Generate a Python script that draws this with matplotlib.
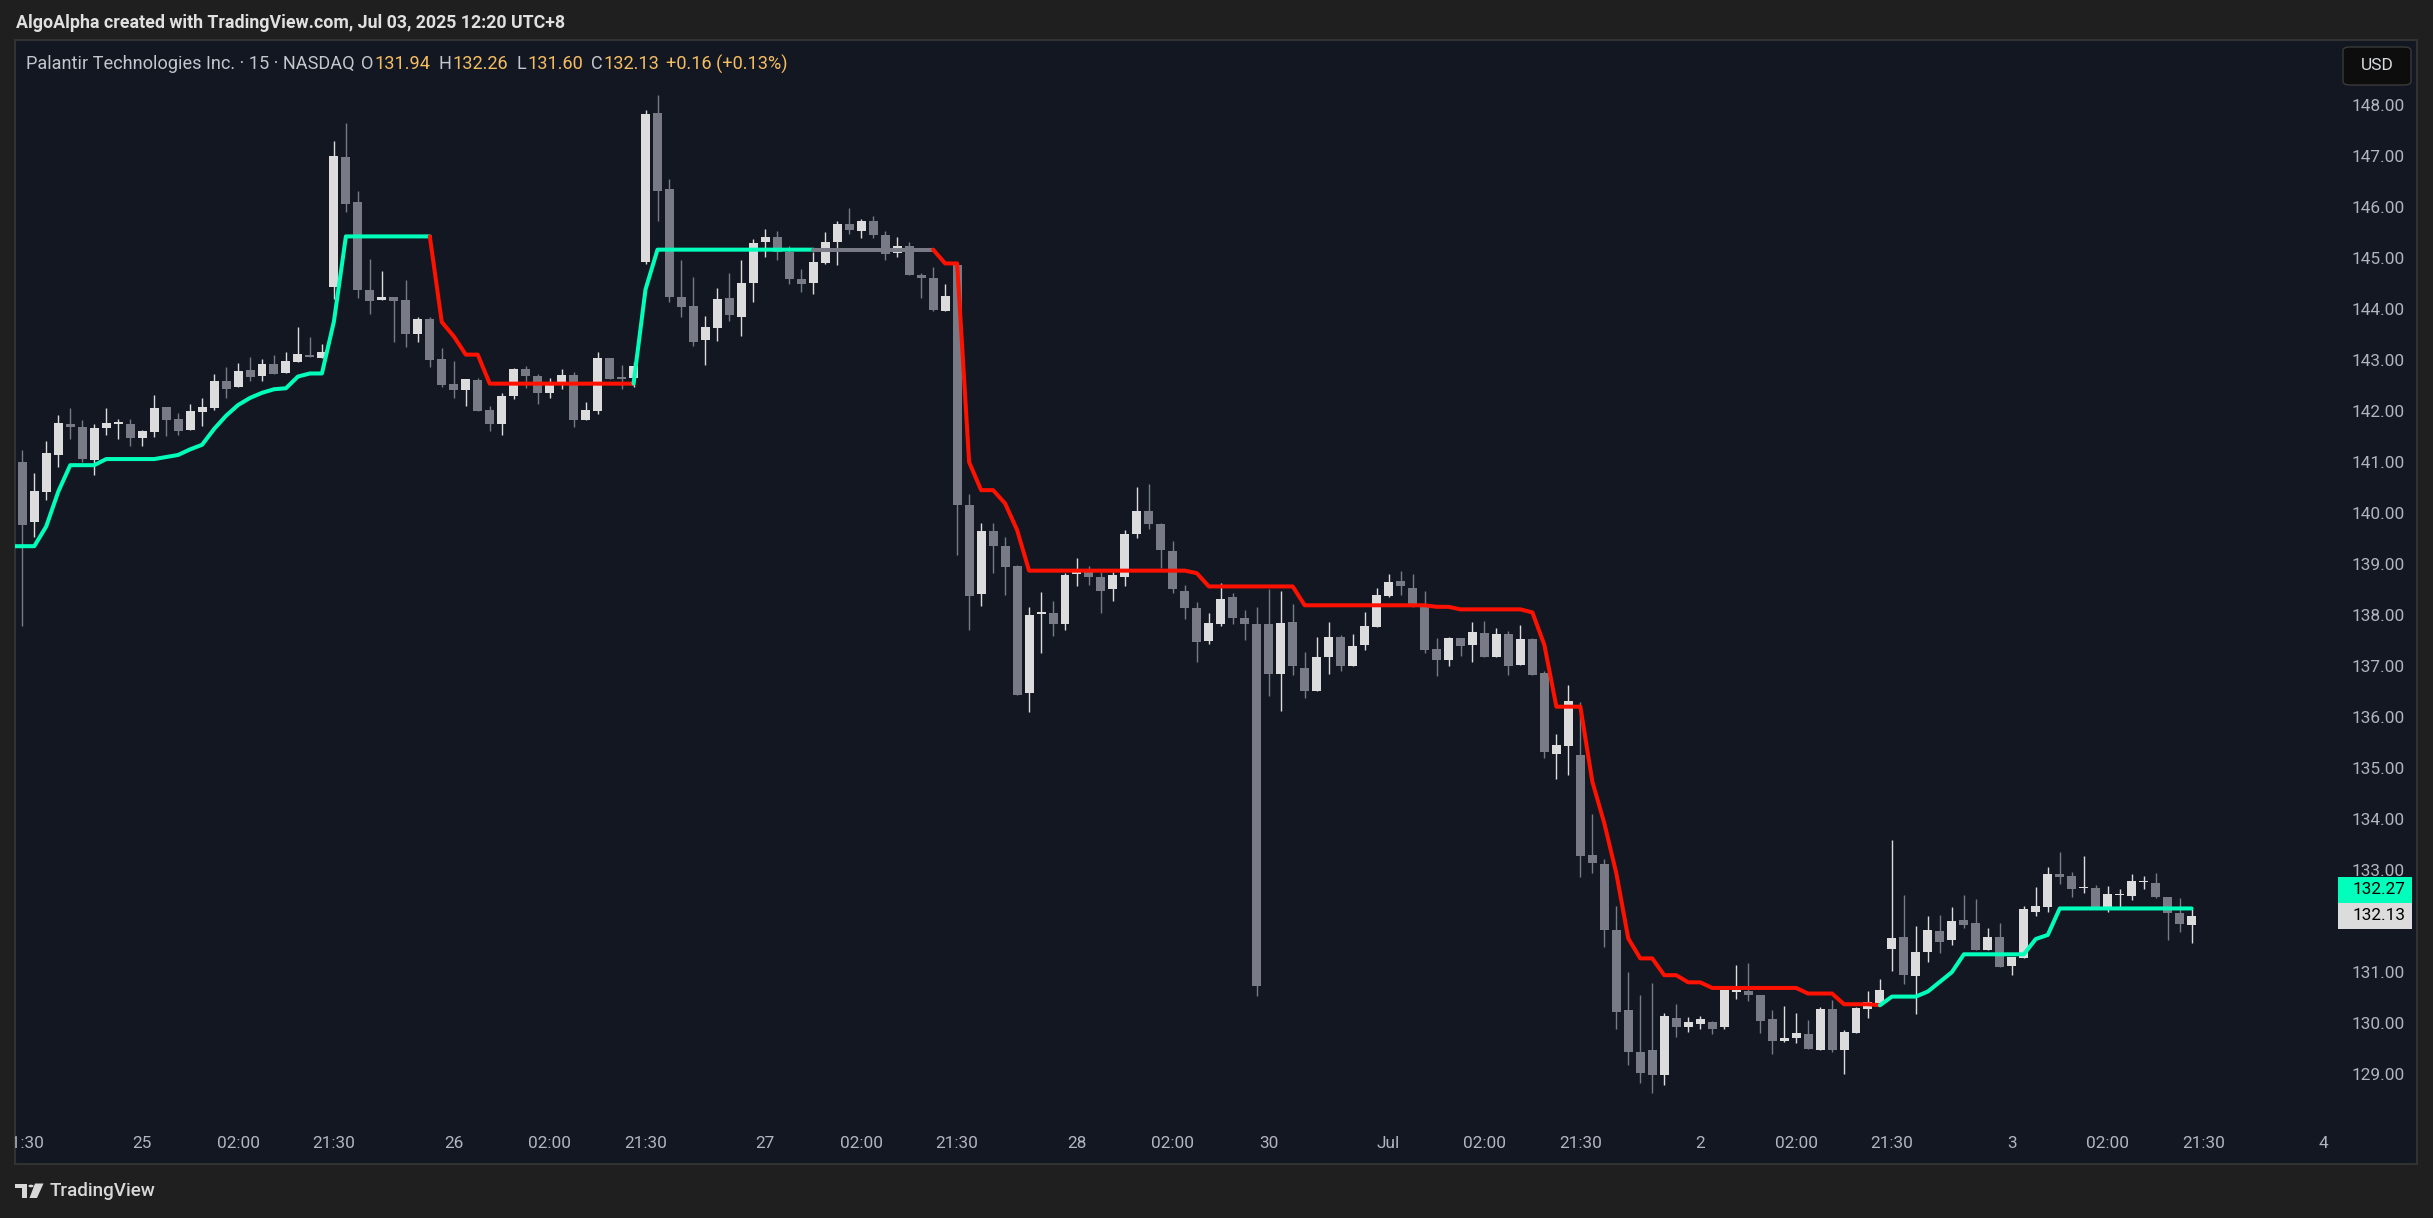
import numpy as np
import matplotlib
matplotlib.use("Agg")
import matplotlib.pyplot as plt
from matplotlib.patches import Rectangle, Polygon, Circle, FancyBboxPatch
from matplotlib.transforms import blended_transform_factory

plt.rcParams['font.family'] = ['Roboto', 'DejaVu Sans']

# PLTR 15 min, regular session only. bar 0 = Jun 24 21:30 (UTC+8)
opens = [
    141.03, 139.85, 140.45, 141.17, 141.78, 141.72, 141.08, 141.69, 141.79, 141.78,
    141.51, 141.62, 142.11, 141.88, 141.66, 142.01, 142.10, 142.62, 142.50, 142.84,
    142.73, 142.96, 142.78, 142.99, 143.13, 143.08, 144.47, 147.02, 146.13, 144.41,
    144.22, 144.27, 144.21, 143.55, 143.83, 143.06, 142.57, 142.45, 142.64, 142.05,
    141.77, 142.33, 142.86, 142.72, 142.39, 142.60, 142.74, 141.85, 142.04, 143.08,
    142.70, 142.68, 144.96, 147.88, 146.39, 144.27, 144.09, 143.43, 143.67, 144.25,
    143.87, 144.55, 145.36, 145.45, 145.15, 144.62, 144.55, 144.94, 145.36, 145.70,
    145.57, 145.76, 145.49, 145.14, 145.27, 144.70, 144.64, 144.00, 144.90, 140.19,
    138.45, 139.68, 139.39, 139.00, 136.49, 138.04, 138.07, 137.86, 138.83, 138.87,
    138.78, 138.53, 138.78, 139.61, 140.07, 139.81, 139.29, 138.51, 138.16, 137.51,
    137.86, 138.38, 137.98, 137.86, 137.86, 136.87, 137.90, 136.99, 136.54, 137.20,
    137.59, 137.02, 137.45, 137.80, 138.41, 138.70, 138.56, 138.19, 137.36, 137.14,
    137.58, 137.45, 137.68, 137.21, 137.66, 137.05, 137.56, 136.89, 135.31, 135.45,
    135.28, 133.32, 133.14, 131.85, 130.28, 129.45, 129.50, 129.00, 130.11, 129.95,
    130.00, 130.05, 129.95, 130.63, 130.65, 130.57, 130.10, 129.67, 129.73, 129.81,
    129.49, 130.30, 129.49, 129.83, 130.30, 130.41, 131.48, 131.71, 130.95, 131.42,
    131.83, 131.66, 132.04, 131.98, 131.45, 131.71, 131.15, 131.30, 132.20, 132.30,
    132.95, 132.91, 132.67, 132.67, 132.30, 132.53, 132.51, 132.79, 132.77, 132.49,
    132.18, 131.94]

highs = [
    141.27, 140.82, 141.44, 141.96, 142.10, 141.86, 141.78, 142.10, 141.88, 141.88,
    141.66, 142.35, 142.11, 141.99, 142.17, 142.29, 142.75, 142.89, 142.98, 143.09,
    143.06, 143.13, 143.19, 143.69, 143.48, 143.35, 147.33, 147.69, 146.35, 145.02,
    144.78, 144.27, 144.61, 143.87, 143.87, 143.27, 143.01, 142.66, 142.69, 142.14,
    142.39, 142.88, 142.92, 142.76, 142.68, 142.86, 142.79, 142.21, 143.19, 143.08,
    142.94, 142.99, 147.94, 148.24, 146.59, 145.00, 144.66, 143.90, 144.45, 144.74,
    145.00, 145.41, 145.61, 145.57, 145.27, 144.82, 145.15, 145.55, 145.76, 146.02,
    145.80, 145.86, 145.57, 145.45, 145.35, 144.74, 144.86, 144.53, 144.90, 140.40,
    139.83, 139.83, 139.57, 139.02, 138.18, 138.48, 138.30, 138.85, 139.14, 139.00,
    138.87, 138.87, 139.70, 140.54, 140.60, 139.84, 139.48, 138.62, 138.29, 138.07,
    138.65, 138.46, 138.12, 138.19, 138.53, 138.50, 138.25, 137.31, 137.60, 137.89,
    137.63, 137.65, 138.09, 138.56, 138.84, 138.89, 138.83, 138.50, 137.58, 137.60,
    137.58, 137.89, 137.91, 137.77, 137.72, 137.83, 137.58, 136.94, 135.70, 136.66,
    136.32, 134.12, 133.25, 132.32, 131.02, 130.57, 130.80, 130.22, 130.40, 130.13,
    130.16, 130.07, 130.67, 131.16, 131.19, 130.57, 130.28, 130.36, 130.22, 130.08,
    130.33, 130.47, 129.88, 130.34, 130.65, 130.89, 133.61, 132.53, 131.92, 132.12,
    132.14, 132.29, 132.53, 132.46, 131.89, 131.98, 131.32, 132.32, 132.69, 133.08,
    133.38, 132.99, 133.30, 132.73, 132.71, 132.65, 132.95, 132.91, 132.97, 132.49,
    132.48, 132.26]

lows = [
    137.82, 139.56, 140.29, 140.94, 141.48, 141.04, 140.78, 141.57, 141.48, 141.35,
    141.35, 141.53, 141.55, 141.56, 141.66, 141.74, 142.05, 142.29, 142.50, 142.62,
    142.62, 142.76, 142.78, 142.99, 143.09, 143.08, 144.23, 145.93, 144.25, 143.94,
    144.22, 143.39, 143.28, 143.39, 142.89, 142.50, 142.28, 142.14, 142.04, 141.64,
    141.56, 142.26, 142.48, 142.18, 142.29, 142.47, 141.71, 141.85, 141.98, 142.66,
    142.46, 142.50, 144.91, 145.76, 144.18, 143.88, 143.31, 142.94, 143.41, 143.79,
    143.51, 144.18, 145.06, 145.00, 144.53, 144.36, 144.32, 144.91, 144.89, 145.51,
    145.43, 145.43, 145.00, 145.06, 144.71, 144.26, 144.00, 144.00, 139.20, 137.74,
    138.21, 138.85, 138.43, 136.46, 136.13, 137.28, 137.62, 137.74, 138.59, 138.62,
    138.06, 138.31, 138.59, 139.55, 139.71, 138.95, 138.47, 137.96, 137.10, 137.47,
    137.82, 137.86, 137.53, 130.56, 136.44, 136.14, 136.85, 136.40, 136.54, 136.87,
    136.94, 137.02, 137.34, 137.80, 138.38, 138.43, 138.19, 137.29, 136.84, 137.03,
    137.23, 137.11, 137.21, 137.21, 136.86, 137.05, 136.86, 135.23, 134.82, 134.89,
    132.88, 132.97, 131.52, 129.90, 129.20, 128.85, 128.65, 128.80, 129.75, 129.85,
    129.90, 129.80, 129.90, 130.50, 130.46, 129.82, 129.42, 129.64, 129.62, 129.51,
    129.49, 129.46, 129.03, 129.83, 130.12, 130.41, 131.05, 130.79, 130.20, 131.21,
    131.40, 131.55, 131.89, 131.45, 131.45, 131.13, 130.97, 131.30, 132.12, 132.20,
    132.74, 132.49, 132.57, 132.30, 132.20, 132.28, 132.44, 132.65, 132.48, 131.65,
    131.80, 131.60]

closes = [
    139.80, 140.46, 141.21, 141.80, 141.71, 141.10, 141.70, 141.80, 141.81, 141.51,
    141.64, 142.10, 141.86, 141.64, 142.03, 142.11, 142.62, 142.47, 142.82, 142.70,
    142.96, 142.76, 143.01, 143.15, 143.09, 143.19, 147.04, 146.10, 144.40, 144.20,
    144.27, 144.20, 143.55, 143.83, 143.04, 142.55, 142.45, 142.66, 142.04, 141.77,
    142.33, 142.86, 142.73, 142.39, 142.61, 142.74, 141.86, 142.05, 143.08, 142.66,
    142.66, 142.92, 147.86, 146.35, 144.28, 144.08, 143.39, 143.68, 144.23, 143.91,
    144.55, 145.33, 145.45, 145.15, 144.63, 144.53, 144.96, 145.35, 145.70, 145.59,
    145.76, 145.48, 145.12, 145.27, 144.71, 144.65, 144.02, 144.29, 140.18, 138.41,
    139.68, 139.38, 138.97, 136.46, 138.02, 138.09, 137.86, 138.82, 138.87, 138.78,
    138.51, 138.82, 139.62, 140.07, 139.82, 139.30, 138.53, 138.16, 137.49, 137.88,
    138.34, 137.98, 137.86, 130.75, 136.87, 137.88, 137.02, 136.54, 137.20, 137.59,
    137.02, 137.43, 137.81, 138.42, 138.67, 138.59, 138.19, 137.35, 137.15, 137.58,
    137.43, 137.70, 137.21, 137.66, 137.03, 137.56, 136.86, 135.35, 135.48, 136.34,
    133.29, 133.17, 131.85, 130.24, 129.45, 129.05, 129.00, 130.15, 129.95, 130.05,
    130.10, 129.90, 130.67, 130.67, 130.57, 130.06, 129.67, 129.72, 129.82, 129.51,
    130.30, 129.49, 129.85, 130.32, 130.43, 130.67, 131.69, 130.97, 131.42, 131.85,
    131.62, 132.02, 131.95, 131.45, 131.71, 131.13, 131.32, 132.26, 132.32, 132.95,
    132.89, 132.65, 132.69, 132.30, 132.55, 132.55, 132.81, 132.80, 132.49, 132.19,
    131.97, 132.13]

# trailing stop line, starts one bar before the first visible candle
trail = [
    139.38, 139.38, 139.38, 139.77, 140.45, 140.97, 140.97, 140.97, 141.09, 141.09,
    141.09, 141.09, 141.09, 141.13, 141.17, 141.28, 141.37, 141.68, 141.94, 142.15,
    142.29, 142.39, 142.46, 142.48, 142.71, 142.77, 142.77, 143.79,
    145.46, 145.46, 145.46, 145.46, 145.46, 145.46, 145.46, 145.46,
    143.78, 143.50, 143.14, 143.14,
    142.57, 142.57, 142.57, 142.57, 142.57, 142.57, 142.57, 142.57, 142.57, 142.57,
    142.57, 142.57, 142.57,
    144.42,
    145.20, 145.20, 145.20, 145.20, 145.20, 145.20, 145.20, 145.20, 145.20, 145.20,
    145.20, 145.20, 145.20, 145.20, 145.20, 145.20, 145.20, 145.20, 145.20, 145.20,
    145.20, 145.20, 145.20, 145.20,
    144.93, 144.93, 141.03, 140.48, 140.48, 140.22, 139.70,
    138.90, 138.90, 138.90, 138.90, 138.90, 138.90, 138.90, 138.90, 138.90, 138.90,
    138.90, 138.90, 138.90, 138.90,
    138.85,
    138.59, 138.59, 138.59, 138.59, 138.59, 138.59, 138.59, 138.59,
    138.22, 138.22, 138.22, 138.22, 138.22, 138.22, 138.22, 138.22, 138.22, 138.22,
    138.22,
    138.19, 138.19,
    138.14, 138.14, 138.14, 138.14, 138.14, 138.14,
    138.08, 137.44,
    136.23, 136.23, 136.23,
    134.76, 133.94, 132.96, 131.68,
    131.29, 131.29, 130.96, 130.96, 130.82, 130.82,
    130.71, 130.71, 130.71, 130.71, 130.71, 130.71, 130.71, 130.71,
    130.60, 130.60, 130.60,
    130.39, 130.39, 130.39,
    130.37,
    130.54, 130.54, 130.54, 130.64, 130.83, 131.02,
    131.37, 131.37, 131.37, 131.37, 131.37, 131.37,
    131.67, 131.75,
    132.27, 132.27, 132.27, 132.27, 132.27, 132.27, 132.27, 132.27, 132.27, 132.27,
    132.27, 132.27]
# colour state of the line (run lengths, counted from the bar before bar 0)
trail_runs = [("up", 36), ("down", 17), ("up", 15), ("flat", 10), ("down", 79), ("up", 26)]

time_tick_bars = [0, 10, 18, 26, 36, 44, 52, 62, 70, 78, 88, 96, 104, 114, 122,
                  130, 140, 148, 156, 166, 174, 182, 192]
time_tick_labels = ["21:30", "25", "02:00", "21:30", "26", "02:00", "21:30", "27", "02:00",
                    "21:30", "28", "02:00", "30", "Jul", "02:00", "21:30", "2", "02:00",
                    "21:30", "3", "02:00", "21:30", "4"]
price_ticks = list(range(129, 149))
change_abs, change_pct = 0.16, 0.13   # as printed in the legend

assert len(opens) == len(highs) == len(lows) == len(closes) == 182
assert len(trail) == 183 and sum(n for _, n in trail_runs) == 183

UP_C, DN_C = '#dcdcdc', '#787b86'
LINE_C = {"up": '#00ffbb', "down": '#ff1100', "flat": '#787b86'}
TXT = '#b2b5be'

W, H = 2433, 1218
fig = plt.figure(figsize=(W / 100, H / 100), dpi=100)
fig.patch.set_facecolor('#1f1f1f')


def fx(x):
    return x / W


def fy(y):
    return 1 - y / H


# chart panel
P_L, P_T, P_R, P_B = 15, 40, 2417, 1164
ax = fig.add_axes([fx(P_L), fy(P_B), fx(P_R) - fx(P_L), fy(P_T) - fy(P_B)])
ax.set_facecolor('#131722')
for sp in ax.spines.values():
    sp.set_color('#323232')
    sp.set_linewidth(1.5)
ax.set_xticks([])
ax.set_yticks([])

# pixel scale of the screenshot: bar k -> X0 + DX*k, price p -> Y0 + (148 - p)*DY
X0, DX = 22.3, 11.985
Y0, DY = 107.0, 50.95
ax.set_xlim((P_L - X0) / DX, (P_R - X0) / DX)
ax.set_ylim(148 - (P_B - Y0) / DY, 148 - (P_T - Y0) / DY)

o = np.array(opens)
h = np.array(highs)
l = np.array(lows)
c = np.array(closes)
idx = np.arange(len(o))
cols = np.where(c >= o, UP_C, DN_C)
min_h = 1.3 / DY
body = np.abs(c - o)
bottom = np.where(body < min_h, (o + c) / 2 - min_h / 2, np.minimum(o, c))
ax.vlines(idx, l, h, colors=cols, linewidth=1.0, zorder=2)
ax.bar(idx, np.maximum(body, min_h), bottom=bottom, width=0.75, color=cols,
       linewidth=0, zorder=2)

# trail line, each segment coloured by the state of the bar it ends on
tx = np.arange(len(trail)) - 1
ty = np.array(trail)
start = 0
for state, n in trail_runs:
    a = max(start - 1, 0)
    b = start + n
    ax.plot(tx[a:b], ty[a:b], color=LINE_C[state], linewidth=2.9,
            solid_joinstyle='round', solid_capstyle='round', zorder=3)
    start += n

# price scale
tr = blended_transform_factory(ax.transAxes, ax.transData)
span = P_R - P_L
lab_x = (2405 - P_L) / span
box_x = (2338 - P_L) / span
box_w = 74 / span
box_h = 26 / DY
last_c = closes[-1]
last_t = trail[-1]
for p in price_ticks:
    if last_c - box_h / 2 < p < last_c + 1.5 * box_h:
        continue
    ax.text(lab_x, p, f"{p:.2f}", transform=tr, ha='right', va='center',
            fontsize=12.4, color=TXT, zorder=4)

ax.add_patch(Rectangle((box_x, last_c - box_h / 2), box_w, box_h, transform=tr,
                       facecolor='#dcdcdc', edgecolor='none', zorder=5))
ax.add_patch(Rectangle((box_x, last_c + box_h / 2), box_w, box_h, transform=tr,
                       facecolor=LINE_C["up"], edgecolor='none', zorder=5))
ax.text(lab_x, last_c, f"{last_c:.2f}", transform=tr, ha='right', va='center',
        fontsize=12.4, color='#000000', zorder=6)
ax.text(lab_x, last_c + box_h, f"{last_t:.2f}", transform=tr, ha='right', va='center',
        fontsize=12.4, color='#000000', zorder=6)

# time scale
time_y = (P_B - 1144) / (P_B - P_T)
for k, s in zip(time_tick_bars, time_tick_labels):
    ax.text(k, time_y, s, transform=ax.get_xaxis_transform(), ha='center', va='center',
            fontsize=12.4, color=TXT, clip_on=True, zorder=4)

# USD button
fig.patches.append(FancyBboxPatch((fx(2343), fy(85)), fx(2411) - fx(2343), fy(47) - fy(85),
                                  boxstyle='round,pad=0,rounding_size=0.003',
                                  transform=fig.transFigure, facecolor='#0d0d0d',
                                  edgecolor='#3a3a3a', linewidth=1.0, zorder=5))
fig.text(fx(2377), fy(66), "USD", ha='center', va='center', fontsize=12.5,
         color='#d8dade', zorder=6)

renderer = fig.canvas.get_renderer()


def fit_width(t, target):
    w = t.get_window_extent(renderer).width
    t.set_fontsize(t.get_fontsize() * target / w)
    return t


def width_of(t):
    return t.get_window_extent(renderer).width


title = fig.text(fx(15.5), fy(23), "AlgoAlpha created with TradingView.com, Jul 03, 2025 12:20 UTC+8",
                 ha='left', va='center', fontsize=12, fontweight='bold', color='#e0e0e0')
fit_width(title, 546)

# legend line
name = fig.text(fx(26), fy(64), "Palantir Technologies Inc. \u00b7 15 \u00b7 NASDAQ",
                ha='left', va='center', fontsize=12, color='#c3c6cc')
fit_width(name, 326)
fs = name.get_fontsize()
VAL_C = '#f5bd62'
ohlc = [("O", opens[-1], 361), ("H", highs[-1], 439), ("L", lows[-1], 517), ("C", closes[-1], 591)]
for letter, v, x in ohlc:
    t = fig.text(fx(x), fy(64), letter, ha='left', va='center', fontsize=fs, color='#c3c6cc')
    fig.text(fx(x + width_of(t) + 1), fy(64), f"{v:.2f}", ha='left', va='center',
             fontsize=fs, color=VAL_C)
fig.text(fx(666), fy(64), f"{change_abs:+.2f} ({change_pct:+.2f}%)", ha='left',
         va='center', fontsize=fs, color=VAL_C)

# TradingView logo
logo_c = '#d8d8d8'
fig.patches.append(Polygon([(fx(15), fy(1183.5)), (fx(27.5), fy(1183.5)), (fx(27.5), fy(1198)),
                            (fx(21.5), fy(1198)), (fx(21.5), fy(1188)), (fx(15), fy(1188))],
                           closed=True, transform=fig.transFigure, facecolor=logo_c,
                           edgecolor='none'))
fig.patches.append(Circle((fx(31.0), fy(1186.0)), 2.6 / W, transform=fig.transFigure,
                          facecolor=logo_c, edgecolor='none'))
fig.patches.append(Polygon([(fx(35.0), fy(1183.5)), (fx(43.5), fy(1183.5)), (fx(37.0), fy(1198)),
                            (fx(29.5), fy(1198))], closed=True, transform=fig.transFigure,
                           facecolor=logo_c, edgecolor='none'))
brand = fig.text(fx(49.5), fy(1191), "TradingView", ha='left', va='center', fontsize=14,
                 color=logo_c, fontweight='medium')
fit_width(brand, 106)

fig.savefig("out.png", dpi=100, facecolor=fig.get_facecolor())
